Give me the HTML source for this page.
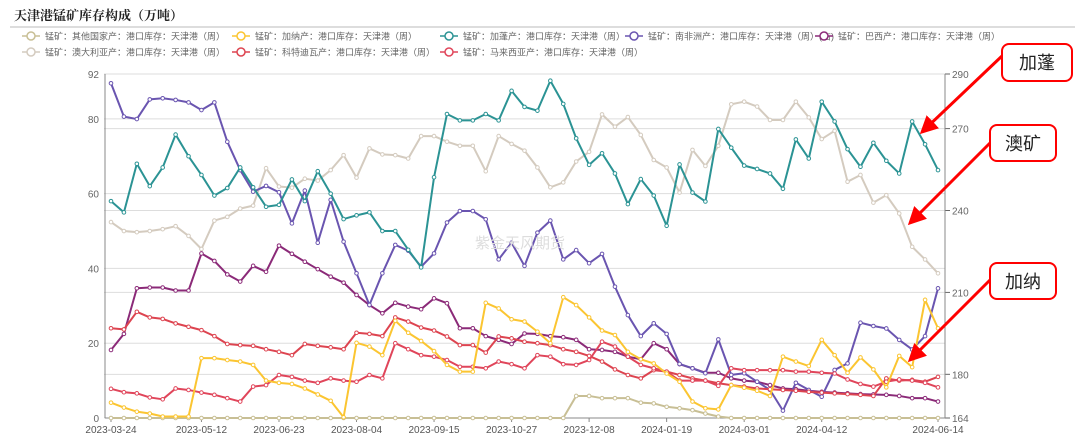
<!DOCTYPE html>
<html><head><meta charset="utf-8"><style>
body{margin:0;background:#fff;width:1080px;height:442px;overflow:hidden;font-family:"Liberation Sans","Noto Sans CJK SC",sans-serif}
svg text{font-family:"Liberation Sans","Noto Sans CJK SC",sans-serif}
</style></head><body>
<svg id="chart" width="1080" height="442" xmlns="http://www.w3.org/2000/svg">
<text x="14" y="20" font-size="13" font-weight="bold" fill="#222" style="font-family:'Liberation Serif','Noto Serif CJK SC',serif">天津港锰矿库存构成（万吨）</text>
<line x1="10" y1="27" x2="1075" y2="27" stroke="#bbb" stroke-width="1"/>
<g id="grid"></g><g id="axes"></g><g id="series"></g><g id="legend"></g>
<text x="475" y="248" font-size="15" fill="#ddd">紫金天风期货</text>
<g>
<defs><marker id="ah" markerWidth="6" markerHeight="6" refX="5" refY="3" orient="auto"><path d="M0,0 L6,3 L0,6 z" fill="#f00"/></marker></defs>
<line x1="1002" y1="56" x2="922" y2="132" stroke="#f00" stroke-width="3" marker-end="url(#ah)"/>
<line x1="990" y1="143" x2="910" y2="223" stroke="#f00" stroke-width="3" marker-end="url(#ah)"/>
<line x1="990" y1="280" x2="910" y2="360" stroke="#f00" stroke-width="3" marker-end="url(#ah)"/>
<rect x="1002" y="44" width="70" height="37" rx="7" fill="#fff" stroke="#f00" stroke-width="2"/>
<text x="1037" y="69" font-size="18" text-anchor="middle" fill="#222">加蓬</text>
<rect x="990" y="125" width="66" height="36" rx="7" fill="#fff" stroke="#f00" stroke-width="2"/>
<text x="1023" y="150" font-size="18" text-anchor="middle" fill="#222">澳矿</text>
<rect x="990" y="263" width="66" height="36" rx="7" fill="#fff" stroke="#f00" stroke-width="2"/>
<text x="1023" y="288" font-size="18" text-anchor="middle" fill="#222">加纳</text>
</g>
</svg>
<script>
const dateLabels=["2023-03-24","2023-05-12","2023-06-23","2023-08-04","2023-09-15","2023-10-27","2023-12-08","2024-01-19","2024-03-01","2024-04-12","2024-06-14"];
const dateLabelIdx=[0,7,13,19,25,31,37,43,49,55,64];
const leftTicks=[0,20,40,60,80,92];
const rightTicks=[164,180,210,240,270,290];
const other=[0,0,0,0,0,0,0,0,0,0,0,0,0,0,0,0,0,0,0,0,0,0,0,0,0,0,0,0,0,0,0,0,0,0,0,0,5.9,5.9,5.3,5.3,5.3,4.1,3.9,3,2.6,2.1,1.2,0.4,0,0,0,0,0,0,0,0,0,0,0,0,0,0,0,0,0];
const ghana=[4.1,2.8,1.7,1.2,0.4,0.4,0.4,16,16,15.5,15.1,14.2,10,9.4,9.1,7.9,6.3,4.6,0.2,20.1,19.1,16.8,26,22.8,20.6,17.9,14.2,12.4,12.4,30.8,29.3,26.4,25.8,23.1,20,32.3,30.2,26.9,23.4,22.2,17.7,15.7,14.6,11.9,9.7,4.4,2.6,2.3,8.8,8.1,7.3,5.9,16.4,15.1,13.9,20.9,16.8,12.1,16.2,13,8.2,16.6,13.6,31.6,24];
const gabon=[58,55,68,62,67,75.8,70,65,59.5,61.5,67,61.7,56.5,57,63.8,58,66,60,53.2,54.2,55,50,50,45,40.3,64.4,81.3,79.6,79.6,81.3,79.6,87.5,83.2,82.2,90.2,84,74.8,67.7,70.8,65.4,57.2,63.9,59.5,51.4,67.8,60.3,57.9,77.3,72.3,67.5,66.6,65.4,61.3,74.5,69.4,84.6,79.3,71.9,67.2,73.6,68.8,65.4,79.3,73.2,66.3];
const southAfrica=[286.6,274.4,273.5,280.7,281.1,280.5,279.6,276.8,279.6,265.2,254.8,246.9,249,246.7,235.3,247.3,228.2,243.9,228.6,217,205.4,217,227.4,225.3,219.4,224.3,235.6,239.8,239.8,236.8,222.1,228.2,219.7,231.9,236.3,222.1,225.5,220.7,224.1,212.1,201.7,194,198.7,194.8,183.8,182.2,180.4,192.8,179.8,180.4,177.3,174.3,166.7,176.9,174.3,171.8,181.6,184,198.9,197.7,196.8,192.6,189.1,194,211.5];
const brazil=[18.2,22.5,34.7,34.9,34.9,34.1,34.1,44,42,38.4,36.5,40.7,39.1,46.1,43.9,41.8,39.8,37.8,36.2,32.9,30.2,28,30.8,29.8,29.1,32,30.7,24,24,21.9,20.9,19.8,22.6,22.5,21.9,21.6,20.9,18.4,18.2,17.7,16.4,15.7,20,18.4,14.4,13.3,12.1,12.1,10.6,10,9.7,8.8,7.9,7.7,7.3,7,6.8,6.6,6.4,6.3,6.2,5.9,5.3,5.3,4.4];
const australia=[52.4,50,49.7,50,50.5,51.3,48.7,45.2,52.8,53.8,56,56.8,66.8,61.9,61.6,64,63.5,66.3,70.3,64.3,72.1,70.5,70.3,69.4,75.4,75.4,73.9,72.8,72.8,66,75.4,73.3,71.5,67,61.7,63,68.6,71.2,81.2,77.9,80.5,75.7,69,67,60.3,71.7,67.4,72.8,83.9,84.6,83.3,79.7,79.7,84.6,80.4,74.6,76.8,63.2,65,57.6,59.6,54.7,45.8,42.4,38.7];
const coteDIvoire=[24,23.7,28.4,26.9,26.5,25.3,24.4,23.5,21.9,19.8,19.5,19.3,18.4,17.7,16.8,19.8,19.3,18.9,18.4,22.8,22.5,21.9,26.9,25.8,24.2,23.4,21.8,19.5,19.5,17.5,21.8,21.3,20.4,20,19.5,18.4,17.7,16.6,15.1,13,11.5,10.6,12.8,12.4,11.5,10.6,10,9.3,8.8,8.4,7.9,7.7,7.5,7.3,7,6.8,6.6,6.4,6.2,5.9,10.6,10,10.2,9.7,11];
const malaysia=[7.8,6.9,6.6,5.5,5,7.9,7.5,6.8,6.2,5.3,4.4,8.4,8.8,11.5,11,10,9.4,10.6,10,9.7,11.5,10.6,20,18.4,16.8,16.4,15.5,13.7,13.7,13.3,15.1,14.4,13.3,16.8,16.4,14.4,14.2,15.5,20.4,19.1,16.4,14.2,13.3,12.4,10,10,10,8.6,13.3,12.8,12.8,12.8,12.8,12.4,12.4,12.1,11.9,10.3,9.1,8.4,9.7,10.3,10,9.4,8.2];

const NS="http://www.w3.org/2000/svg";
const X0=111,X1=938,YT=74,YB=418;
const N=gabon.length;
const xS=i=>X0+(X1-X0)*i/(N-1);
const yL=v=>YB-(v-0)/(92-0)*(YB-YT);
const yR=v=>YB-(v-164)/(290-164)*(YB-YT);
function mk(tag,attrs,parent){const e=document.createElementNS(NS,tag);for(const k in attrs)e.setAttribute(k,attrs[k]);parent.appendChild(e);return e;}
const grid=document.getElementById('grid'),axes=document.getElementById('axes'),ser=document.getElementById('series'),leg=document.getElementById('legend');
leftTicks.forEach(t=>{const g=mk('line',{x1:104,x2:945,y1:yL(t),y2:yL(t),stroke:'#ddd','stroke-width':1},grid);


const tx=mk('text',{x:99,y:yL(t)+4,'font-size':10,fill:'#666','text-anchor':'end'},axes);tx.textContent=t;

});
rightTicks.forEach(t=>{const g=mk('line',{x1:104,x2:945,y1:yR(t),y2:yR(t),stroke:'#ddd','stroke-width':1},grid);


mk('line',{x1:945,x2:950,y1:yR(t),y2:yR(t),stroke:'#666'},axes);
const tx=mk('text',{x:952,y:yR(t)+4,'font-size':10,fill:'#666'},axes);tx.textContent=t;

});
const la=mk('line',{x1:105,x2:105,y1:YT,y2:YB,stroke:'#888'},axes);


const ra=mk('line',{x1:945,x2:945,y1:YT,y2:YB,stroke:'#888'},axes);


const xa=mk('line',{x1:105,x2:945,y1:YB,y2:YB,stroke:'#888'},axes);


dateLabels.forEach((d,k)=>{const x=xS(dateLabelIdx[k]);mk('line',{x1:x,x2:x,y1:YB,y2:YB+4,stroke:'#888'},axes);
const tx=mk('text',{x:x,y:YB+15,'font-size':10,fill:'#555','text-anchor':'middle'},axes);tx.textContent=d;

});
const seriesDefs=[
 [other,'#c8bf95',yL,'other-countries-line'],
 [australia,'#d4cbbf',yL,'australia-line'],
 [brazil,'#8b2a78',yL,'brazil-line'],
 [southAfrica,'#6a55b0',yR,'south-africa-line'],
 [coteDIvoire,'#dd4450',yL,'cote-divoire-line'],
 [malaysia,'#e0455a',yL,'malaysia-line'],
 [ghana,'#fbc531',yL,'ghana-line'],
 [gabon,'#2b9394',yL,'gabon-line']];
seriesDefs.forEach(([arr,c,ys,name])=>{
 const g=mk('g',{},ser);
 
 
 mk('polyline',{points:arr.map((v,i)=>xS(i)+','+ys(v)).join(' '),fill:'none',stroke:c,'stroke-width':2,'stroke-linejoin':'round'},g);
 arr.forEach((v,i)=>{const p=mk('circle',{cx:xS(i),cy:ys(v),r:1.8,fill:'#fff',stroke:c,'stroke-width':1},g);
 
 });
});
const legendItems=[
 ['锰矿：其他国家产：港口库存：天津港（周）','#c8bf95',22,36],
 ['锰矿：加纳产：港口库存：天津港（周）','#fbc531',232,36],
 ['锰矿：加蓬产：港口库存：天津港（周）','#2b9394',440,36],
 ['锰矿：南非洲产：港口库存：天津港（周）(右)','#6a55b0',625,36],
 ['锰矿：巴西产：港口库存：天津港（周）','#8b2a78',815,36],
 ['锰矿：澳大利亚产：港口库存：天津港（周）','#d4cbbf',22,52],
 ['锰矿：科特迪瓦产：港口库存：天津港（周）','#dd4450',232,52],
 ['锰矿：马来西亚产：港口库存：天津港（周）','#e0455a',440,52]];
legendItems.forEach(([t,c,x,y])=>{const g=mk('g',{},leg);
 
 
 mk('line',{x1:x,x2:x+18,y1:y,y2:y,stroke:c,'stroke-width':1.5},g);
 mk('circle',{cx:x+9,cy:y,r:4,fill:'#fff',stroke:c,'stroke-width':1.5},g);
 const tx=mk('text',{x:x+23,y:y+3.5,'font-size':9,fill:'#666'},g);tx.textContent=t;});
</script>
</body></html>
